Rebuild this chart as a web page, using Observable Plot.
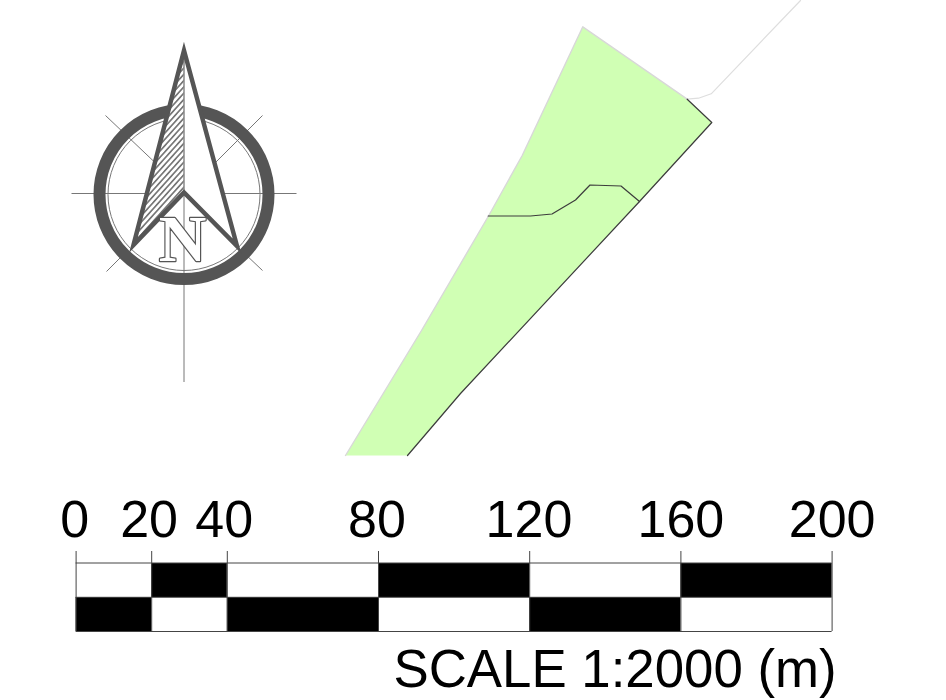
<!DOCTYPE html>
<html>
<head>
<meta charset="utf-8">
<style>html,body{margin:0;padding:0;background:#fff}svg{display:block}</style>
<script src="https://cdn.jsdelivr.net/npm/d3@7"></script>
<script src="https://cdn.jsdelivr.net/npm/@observablehq/plot@0.6"></script>
</head>
<body>
<div id="chart"></div>
<script>
// Scale bar, in metres
const scaleTicks = [0, 20, 40, 80, 120, 160, 200];
const labelAt = [-0.4, -0.7, -0.8, -0.4, -0.2, 0, 0];
const upperBlack = [[20, 40], [80, 120], [160, 200]];
const lowerBlack = [[0, 20], [40, 80], [120, 160]];
const scaleLabel = "SCALE 1:2000 (m)";
const northLetter = "N";

// Map geometry
const parcel = [[582.3,26.3],[686.7,98.7],[711.3,122],[639,201],[460,393],[407,455],[345,455],[421,330],[488,215.5],[521.7,155]];
const parcelLightEdge = [[345,455],[421,330],[488,215.5],[521.7,155],[582.3,26.3],[686.7,98.7]];
const parcelDarkEdge = [[686.7,98.7],[711.3,122],[639,201],[460,393],[407,455]];
const innerBoundary = [[487.7,215.5],[530,215.5],[551.5,213.5],[575,199.5],[589.5,184.5],[620.5,185.5],[639,201]];
const road = [[686.7,98.7],[698,97.7],[710.7,93.3],[800,0]];

// North arrow
const ringCentre = [183.5, 194];
const ringRadius = 84.5, thinRadius = 76;
const arrowOutline = [[183.5,50],[236.5,245.5],[183.5,192],[133,244.5]];
const arrowHatched = [[183.5,50],[183.5,192],[133,244.5]];
const arrowSpine = [[183.5,50],[183.5,192]];
const compassRules = [
  [[71,193],[296,193]],
  [[183.5,150],[183.5,381.5]],
  [[105,115],[165,172]],
  [[262,115],[205,172]],
  [[106,271],[125,252]],
  [[262,270],[243,252]]
];
const letterBase = [182, 260];

const PX = 3.78, X0 = 75.6;
const mx = (p) => (p - X0) / PX;
const my = (p) => p / PX;
const toM = (pts) => pts.map(([a, b]) => ({x: mx(a), y: my(b)}));
const dark = "#555";

const hatch = () => {
  const defs = d3.create("svg:defs");
  const p = defs.append("pattern").attr("id", "hatch").attr("patternUnits", "userSpaceOnUse")
    .attr("width", 4.2).attr("height", 4.2).attr("patternTransform", "rotate(-48)");
  p.append("rect").attr("width", 4.2).attr("height", 1.7).attr("fill", "#777");
  return defs.node();
};

const plot = Plot.plot({
  width: 946, height: 700,
  marginTop: 0, marginRight: 0, marginBottom: 0, marginLeft: 0,
  style: {fontFamily: "'Liberation Sans', Arial, sans-serif", background: "#fff", color: "#000"},
  x: {domain: [0, 200], range: [X0, X0 + 200 * PX], axis: null},
  y: {domain: [0, 700 / PX], range: [0, 700], axis: null},
  marks: [
    hatch,
    // parcel
    Plot.line(toM(parcel), {x: "x", y: "y", fill: "#d0ffb4", stroke: "none"}),
    Plot.line(toM(road), {x: "x", y: "y", stroke: "#dedede", strokeWidth: 1.2}),
    Plot.line(toM(parcelLightEdge), {x: "x", y: "y", stroke: "#d8d8d8", strokeWidth: 1.4}),
    Plot.line(toM(parcelDarkEdge), {x: "x", y: "y", stroke: "#3c3c3c", strokeWidth: 1.2}),
    Plot.line(toM(innerBoundary), {x: "x", y: "y", stroke: "#3c3c3c", strokeWidth: 1.2}),
    // compass
    Plot.link(compassRules, {
      x1: (d) => mx(d[0][0]), y1: (d) => my(d[0][1]),
      x2: (d) => mx(d[1][0]), y2: (d) => my(d[1][1]),
      stroke: "#777", strokeWidth: 1
    }),
    Plot.dot([ringCentre], {x: (d) => mx(d[0]), y: (d) => my(d[1]), r: thinRadius, stroke: "#777", strokeWidth: 1, fill: "none"}),
    Plot.dot([ringCentre], {x: (d) => mx(d[0]), y: (d) => my(d[1]), r: ringRadius, stroke: dark, strokeWidth: 12, fill: "none"}),
    Plot.line(toM([...arrowOutline, arrowOutline[0]]), {x: "x", y: "y", fill: "white", stroke: "none"}),
    Plot.line(toM(arrowHatched), {x: "x", y: "y", fill: "url(#hatch)", stroke: "none"}),
    Plot.line(toM(arrowSpine), {x: "x", y: "y", stroke: "#888", strokeWidth: 1.5}),
    Plot.line(toM([...arrowOutline, arrowOutline[0], arrowOutline[1]]), {
      x: "x", y: "y", stroke: dark, strokeWidth: 4.5, strokeLinejoin: "miter", strokeMiterlimit: 10
    }),
    Plot.text([northLetter], {
      x: mx(letterBase[0]), y: my(letterBase[1]), text: (d) => d, lineAnchor: "bottom",
      fontSize: 66, fontFamily: "'Liberation Serif', serif", fontWeight: "bold",
      fill: "white", stroke: dark, strokeWidth: 2.4
    }),
    // scale bar
    Plot.rect(upperBlack, {x1: "0", x2: "1", y1: my(563), y2: my(597), fill: "black"}),
    Plot.rect(lowerBlack, {x1: "0", x2: "1", y1: my(597), y2: my(631), fill: "black"}),
    Plot.ruleY([my(562.5), my(596.8), my(631)], {x1: 0, x2: 200, stroke: "#444", strokeWidth: 1}),
    Plot.ruleX(scaleTicks, {y1: my(551), y2: my(631), stroke: "#444", strokeWidth: 1}),
    Plot.text(scaleTicks, {
      x: (d, i) => d + labelAt[i], y: my(536), text: (d) => String(d), lineAnchor: "bottom",
      fontSize: 52, fill: "black"
    }),
    Plot.text([scaleLabel], {
      x: 200, y: my(686), dx: 4.5, text: (d) => d, textAnchor: "end", lineAnchor: "bottom",
      fontSize: 52.8, fill: "black"
    })
  ]
});
document.getElementById("chart").append(plot);
</script>
</body>
</html>
